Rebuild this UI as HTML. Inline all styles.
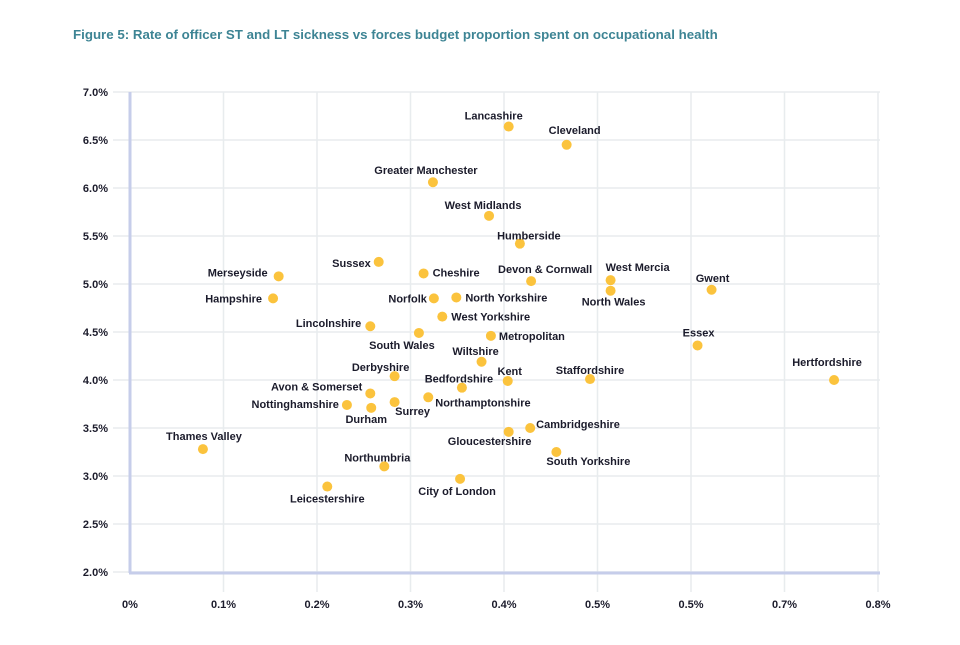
<!DOCTYPE html>
<html><head><meta charset="utf-8"><style>
body{margin:0;background:#fff;width:960px;height:640px;overflow:hidden}
svg text{font-family:"Liberation Sans",sans-serif;font-weight:bold}
</style></head><body>
<svg id="chart" width="960" height="640">
<text x="73" y="39" fill="#3d8494" font-size="13.3">Figure 5: Rate of officer ST and LT sickness vs forces budget proportion spent on occupational health</text>
<g id="grid"></g><g id="axes"></g><g id="pts"></g>
</svg>
<script>
const forces=["Lancashire","Cleveland","Greater Manchester","West Midlands","Humberside","Sussex","Cheshire","Merseyside","Devon & Cornwall","West Mercia","Gwent","North Wales","Hampshire","Norfolk","North Yorkshire","West Yorkshire","Lincolnshire","South Wales","Metropolitan","Wiltshire","Essex","Hertfordshire","Derbyshire","Kent","Staffordshire","Bedfordshire","Avon & Somerset","Nottinghamshire","Durham","Surrey","Northamptonshire","Cambridgeshire","Gloucestershire","South Yorkshire","Thames Valley","Northumbria","City of London","Leicestershire"];
const budgetPct=[0.405,0.467,0.324,0.384,0.417,0.266,0.314,0.159,0.429,0.514,0.622,0.514,0.153,0.325,0.349,0.334,0.257,0.309,0.386,0.376,0.607,0.753,0.283,0.404,0.492,0.355,0.257,0.232,0.258,0.283,0.319,0.428,0.405,0.456,0.078,0.272,0.353,0.211];
const sicknessPct=[6.64,6.45,6.06,5.71,5.42,5.23,5.11,5.08,5.03,5.04,4.94,4.93,4.85,4.85,4.86,4.66,4.56,4.49,4.46,4.19,4.36,4.00,4.04,3.99,4.01,3.92,3.86,3.74,3.71,3.77,3.82,3.50,3.46,3.25,3.28,3.10,2.97,2.89];
const xTicks=[0,0.1,0.2,0.3,0.4,0.5,0.6,0.7,0.8];
const xTickLabels=["0%","0.1%","0.2%","0.3%","0.4%","0.5%","0.5%","0.7%","0.8%"];
const yTicks=[2,2.5,3,3.5,4,4.5,5,5.5,6,6.5,7];
const yTickLabels=["2.0%","2.5%","3.0%","3.5%","4.0%","4.5%","5.0%","5.5%","6.0%","6.5%","7.0%"];
// label layout [dx,dy,anchor]
const labelLayout=[[-15,-11,"middle"],[8,-15,"middle"],[-7,-12,"middle"],[-6,-11,"middle"],[9,-8,"middle"],[-8,1,"end"],[9,-1,"start"],[-11,-4,"end"],[14,-12,"middle"],[-5,-13,"start"],[1,-12,"middle"],[3,11,"middle"],[-11,0,"end"],[-7,0,"end"],[9,0,"start"],[9,0,"start"],[-9,-3,"end"],[-17,12,"middle"],[8,0,"start"],[-6,-11,"middle"],[1,-13,"middle"],[-7,-18,"middle"],[-14,-9,"middle"],[2,-10,"middle"],[0,-9,"middle"],[-3,-9,"middle"],[-8,-7,"end"],[-8,-1,"end"],[-5,11,"middle"],[18,9,"middle"],[7,5,"start"],[6,-4,"start"],[-19,9,"middle"],[32,9,"middle"],[1,-13,"middle"],[-7,-9,"middle"],[-3,12,"middle"],[0,12,"middle"]];
const X0=130,X1=878,Y0=572,Y1=92;
const xs=v=>X0+(v-0)/(0.8)*(X1-X0);
const ys=v=>Y0-(v-2)/(5)*(Y0-Y1);
const NS="http://www.w3.org/2000/svg";
function mk(tag,attrs,parent,txt){const e=document.createElementNS(NS,tag);for(const k in attrs)e.setAttribute(k,attrs[k]);if(txt!==undefined)e.textContent=txt;parent.appendChild(e);return e;}
const grid=document.getElementById('grid'),axes=document.getElementById('axes'),pts=document.getElementById('pts');
yTicks.forEach((t,i)=>{const y=ys(t);
 const l=mk('line',{x1:113,x2:880,y1:y,y2:y,stroke:'#e8ecee','stroke-width':1.5},grid);
 
 
 const tx=mk('text',{x:108,y:y+4,'text-anchor':'end','font-size':11,fill:'#1b1b2b'},axes,yTickLabels[i]);
 
 
});
xTicks.forEach((t,i)=>{const x=xs(t);
 if(i>0){const l=mk('line',{x1:x,x2:x,y1:Y1,y2:592,stroke:'#e8ecee','stroke-width':1.5},grid);
 
 }
 const tx=mk('text',{x:x,y:608,'text-anchor':'middle','font-size':11,fill:'#1b1b2b'},axes,xTickLabels[i]);
 
 
});
const ya=mk('line',{x1:X0,x2:X0,y1:Y1,y2:Y0+1,stroke:'#c6cdea','stroke-width':3},axes);


const xa=mk('line',{x1:X0-1,x2:880,y1:Y0+1,y2:Y0+1,stroke:'#c6cdea','stroke-width':3},axes);


forces.forEach((f,i)=>{const x=xs(budgetPct[i]),y=ys(sicknessPct[i]);
 const c=mk('circle',{cx:x,cy:y,r:5,fill:'#fbc33d'},pts);
 
 
 const L=labelLayout[i];
 const t=mk('text',{x:x+L[0],y:y+L[1]+4,'text-anchor':L[2],'font-size':11,fill:'#1b1b2b'},pts,f);
 
 
});
</script>
</body></html>
